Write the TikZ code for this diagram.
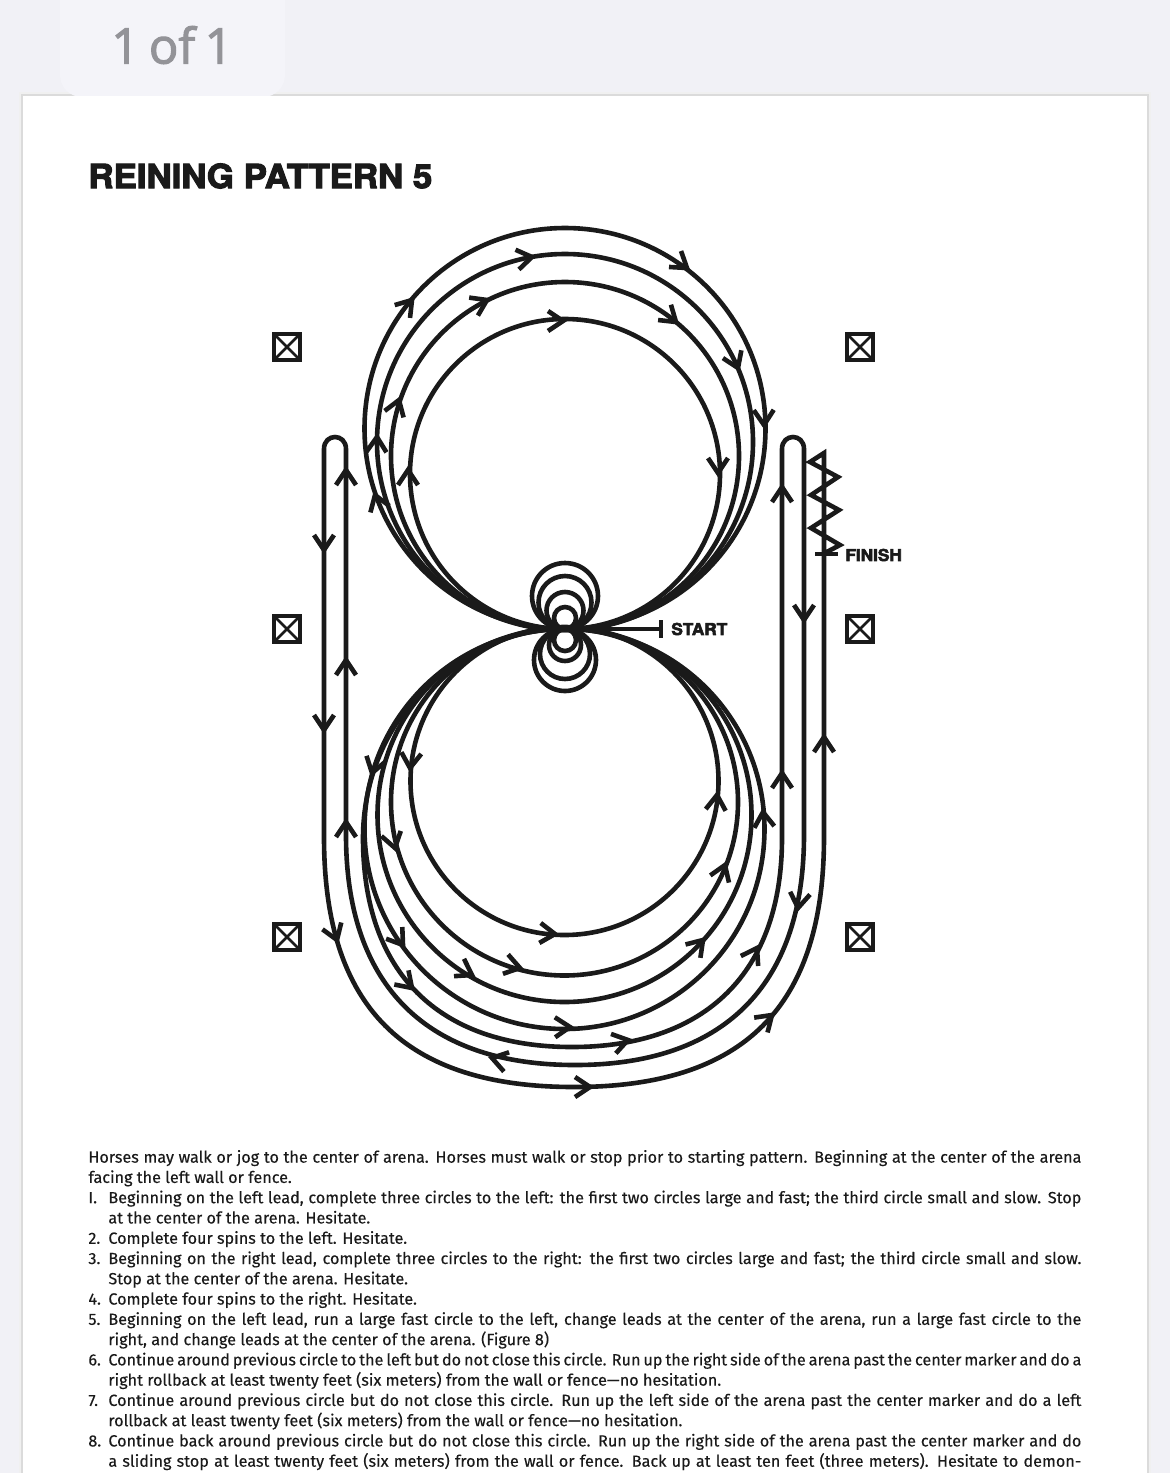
\documentclass[tikz,border=0pt]{standalone}
\usepackage{fontspec}
\setmainfont[FakeBold=0.2]{Fira Sans}
\newfontfamily\heavyfont[FakeBold=3.4,FakeStretch=1.05]{TeX Gyre Heros Bold}
\newfontfamily\tabfont[FakeBold=2.2,WordSpace=0.75]{Open Sans}
\usetikzlibrary{positioning}
\definecolor{ReinInk}{HTML}{1A1A1A}
\definecolor{ReinBack}{HTML}{F1F1F6}
\definecolor{ReinTab}{HTML}{F4F4F9}
\definecolor{ReinGrey}{HTML}{939398}
\newcommand{\patitem}[2]{\par\noindent\hangindent=10pt\hangafter=1\hbox to 10pt{#1\hss}#2}
\tikzset{
  x=0.5pt, y=-0.5pt,
  rein/track/.style={draw=ReinInk, line width=2.3pt},
  rein/chevron/.style={draw=ReinInk, line width=2.3pt, miter limit=4},
  rein/marker/.style={draw=ReinInk, line width=2pt, minimum size=13pt, inner sep=0pt, fill=white,
    path picture={\draw[ReinInk, line width=1.4pt]
      (path picture bounding box.north west) -- (path picture bounding box.south east)
      (path picture bounding box.north east) -- (path picture bounding box.south west);}},
  rein/label/.style={font=\heavyfont\fontsize{8.2}{10}\selectfont, text=ReinInk, inner sep=0pt, anchor=west},
  rein/title/.style={font=\heavyfont\fontsize{16.6}{20}\selectfont, text=ReinInk, inner sep=0pt, anchor=west},
  rein/tab/.style={font=\tabfont\fontsize{24.5}{28}\selectfont, text=ReinGrey, inner sep=0pt},
  rein/body/.style={font=\fontsize{8.1}{10.135}\selectfont, text=ReinInk, inner sep=0pt, anchor=north west,
    text width=496.5pt, align=justify}
}
\begin{document}
\begin{tikzpicture}
  \useasboundingbox (0,0) rectangle (1170,1473);
  \fill[ReinBack] (0,0) rectangle (1170,1473);
  \fill[black!6] (19,92) rectangle (1151,1480);
  \fill[black!14] (21,94) rectangle (1149,1480);
  \fill[ReinTab, rounded corners=11pt] (60,-40) rectangle (285,97);
  \fill[white] (23,96) rectangle (1147,1480);
  \node[rein/tab] (tabtext) at (172,45) {1 of 1};
  \node[rein/title] (title) at (88,176) {REINING PATTERN 5};

  \coordinate (centre) at (565,629);
  \foreach \cy/\r in {474/155,456/174,442/188,428.5/200.5}
    \draw[rein/track] (565,\cy) circle (\r);
  \foreach \cy/\r in {781/154,802/173.5,815/187,829/200}
    \draw[rein/track] (564.5,\cy) circle (\r);
  \foreach \cy/\r in {596/33,602.5/26.5,610.5/18.5,618/11}
    \draw[rein/track] (565,\cy) circle (\r);
  \foreach \cy/\r in {660/31,654/25,645/16,640/11}
    \draw[rein/track] (565,\cy) circle (\r);

  \draw[rein/track] (centre) .. controls (454,629) and (363,723) .. (363,838)
    .. controls (363,972) and (438,1047) .. (572,1047)
    .. controls (706,1047) and (782,972) .. (782,838) -- (782,449)
    .. controls (782,433) and (804,433) .. (804,449) -- (804,835)
    .. controls (804,978) and (731,1065) .. (575,1065)
    .. controls (419,1065) and (346,978) .. (346,835) -- (346,449)
    .. controls (346,433) and (324,433) .. (324,449) -- (324,837)
    .. controls (324,1007) and (404,1087) .. (574,1087)
    .. controls (744,1087) and (824,1007) .. (824,837) -- (824,453)
    -- (810,462) -- (838,477) -- (811,495) -- (839,510) -- (811,528) -- (840,545) -- (823,554);

  \foreach \x/\y/\dir in {563/321/0,718/473/-90,408/470/90,487/300/26,676/322/-40,399/400/71,
      532/257/10,738/368/-67,377/437/88,412/300/50,687/268/-37,764/425/-89,375/495/109,
      555/934/-4,410/768/-95,717/795/85,395/848/-75,520/968/-15,725/865/69,472/975/-30,703/940/48,
      372/773/-106,403/945/-54,570/1027/1,763/812/95,412/988/-45,628/1040/14,757/948/60,
      492/1058/165,798/908/-98,337/940/-70,590/1087/0,772/1015/42,
      346/470/90,346/660/90,346/822/90,324/550/-90,324/730/-90,782/487/90,782/773/90,804/620/-90,824/737/90}
    \draw[rein/chevron, shift={(\x,\y)}, rotate=\dir] (-15,-10) -- (0,0) -- (-15,10);

  \coordinate (startbar) at (661,629);
  \draw[rein/track] (centre) -- (startbar);
  \draw[rein/track] ([yshift=4.5pt]startbar) -- ([yshift=-4.5pt]startbar);
  \node[rein/label, right=5pt of startbar] (start) {START};
  \coordinate (finishbar) at (826,554);
  \draw[rein/track] ([xshift=-5.5pt]finishbar) -- ([xshift=6pt]finishbar);
  \node[rein/label] (finish) at (845,555) {FINISH};

  \foreach \n/\x/\y in {tl/287/347,tr/860/347,ml/287/629,mr/860/629,bl/287/937,br/860/937}
    \node[rein/marker] (mark\n) at (\x,\y) {};

  \node[rein/body] (rules) at (88,1142) {%
    \par\noindent Horses may walk or jog to the center of arena. Horses must walk or stop prior to starting pattern. Beginning at the center of the arena\linebreak
    facing the left wall or fence.
    \patitem{I.}{Beginning on the left lead, complete three circles to the left: the first two circles large and fast; the third circle small and slow. Stop\linebreak
    at the center of the arena. Hesitate.}
    \patitem{2.}{Complete four spins to the left. Hesitate.}
    \patitem{3.}{Beginning on the right lead, complete three circles to the right: the first two circles large and fast; the third circle small and slow.\linebreak
    Stop at the center of the arena. Hesitate.}
    \patitem{4.}{Complete four spins to the right. Hesitate.}
    \patitem{5.}{Beginning on the left lead, run a large fast circle to the left, change leads at the center of the arena, run a large fast circle to the\linebreak
    right, and change leads at the center of the arena. (Figure 8)}
    \patitem{6.}{Continue around previous circle to the left but do not close this circle. Run up the right side of the arena past the center marker and do a\linebreak
    right rollback at least twenty feet (six meters) from the wall or fence---no hesitation.}
    \patitem{7.}{Continue around previous circle but do not close this circle. Run up the left side of the arena past the center marker and do a left\linebreak
    rollback at least twenty feet (six meters) from the wall or fence---no hesitation.}
    \patitem{8.}{Continue back around previous circle but do not close this circle. Run up the right side of the arena past the center marker and do\linebreak
    a sliding stop at least twenty feet (six meters) from the wall or fence. Back up at least ten feet (three meters). Hesitate to demon-\parfillskip=0pt}\par};
\end{tikzpicture}
\end{document}
